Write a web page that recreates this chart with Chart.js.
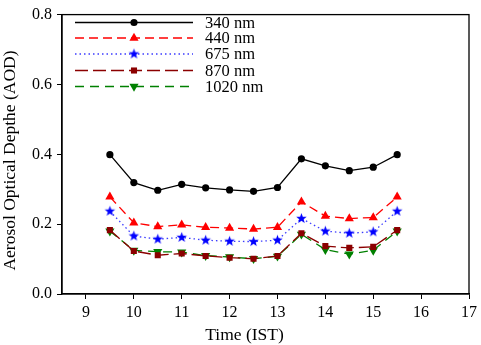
<!DOCTYPE html>
<html><head><meta charset="utf-8">
<script src="https://cdn.jsdelivr.net/npm/chart.js@4.4.1/dist/chart.umd.min.js"></script>
<style>html,body{margin:0;padding:0;background:#fff}#wrap{width:481px;height:345px}</style>
</head><body><div id="wrap"><canvas id="c" width="481" height="345"></canvas></div>
<script>
const times = [9.5,10,10.5,11,11.5,12,12.5,13,13.5,14,14.5,15,15.5];
const aod340  = [0.399,0.319,0.297,0.314,0.304,0.298,0.294,0.305,0.387,0.367,0.353,0.363,0.399];
const aod440  = [0.278,0.204,0.193,0.198,0.191,0.189,0.186,0.191,0.264,0.223,0.216,0.219,0.278];
const aod675  = [0.237,0.166,0.157,0.162,0.154,0.151,0.150,0.154,0.216,0.180,0.174,0.178,0.237];
const aod870  = [0.183,0.123,0.111,0.116,0.109,0.104,0.101,0.109,0.174,0.137,0.132,0.135,0.183];
const aod1020 = [0.180,0.125,0.121,0.120,0.110,0.106,0.101,0.108,0.171,0.127,0.114,0.125,0.180];
const seriesLabels = ['340 nm','440 nm','675 nm','870 nm','1020 nm'];
const xTicks = [9,10,11,12,13,14,15,16,17];
const yTicks = [0.0,0.2,0.4,0.6,0.8];
const xTitle = 'Time (IST)';
const yTitle = 'Aerosol Optical Depthe (AOD)';

function makeStar(color, r){
  const c = document.createElement('canvas');
  const s = Math.ceil(r*2+2);
  c.width = s; c.height = s;
  const g = c.getContext('2d');
  g.fillStyle = color;
  g.beginPath();
  for(let i=0;i<10;i++){
    const rr = i%2===0 ? r : r*0.42;
    const a = -Math.PI/2 + i*Math.PI/5;
    const px = s/2 + rr*Math.cos(a), py = s/2 + rr*Math.sin(a);
    if(i===0) g.moveTo(px,py); else g.lineTo(px,py);
  }
  g.closePath(); g.fill();
  return c;
}
const starImg = makeStar('#0000ff', 5.5);

function pts(arr){ return arr.map((v,i)=>({x:times[i], y:v})); }
const F = "'Liberation Serif','Times New Roman',serif";

const datasets = [
  {label:seriesLabels[0], data:pts(aod340), borderColor:'#000', backgroundColor:'#000', borderWidth:1.3, borderDash:[], pointStyle:'circle', pointRadius:3.6, pointRotation:0},
  {label:seriesLabels[1], data:pts(aod440), borderColor:'#ff0000', backgroundColor:'#ff0000', borderWidth:1.3, borderDash:[9,5], pointStyle:'triangle', pointRadius:5.3, pointRotation:0},
  {label:seriesLabels[2], data:pts(aod675), borderColor:'#3b3bff', backgroundColor:'#0000ff', borderWidth:1.3, borderDash:[1.5,3], pointStyle:starImg, pointRadius:5, pointRotation:0},
  {label:seriesLabels[3], data:pts(aod870), borderColor:'#8b0000', backgroundColor:'#8b0000', borderWidth:1.3, borderDash:[13,5], pointStyle:'rect', pointRadius:4.3, pointRotation:0},
  {label:seriesLabels[4], data:pts(aod1020), borderColor:'#008000', backgroundColor:'#008000', borderWidth:1.3, borderDash:[9,6], pointStyle:'triangle', pointRadius:5.3, pointRotation:180},
];
datasets.forEach(d=>{ d.pointBorderWidth=0; d.pointBorderColor=d.backgroundColor; d.fill=false; d.tension=0; });

const framePlugin = {
  id:'frame',
  afterDraw(chart){
    const {ctx, chartArea:a} = chart;
    ctx.save();
    ctx.strokeStyle='#000'; ctx.lineWidth=1.3;
    ctx.strokeRect(a.left, a.top, a.right-a.left, a.bottom-a.top);
    // axis titles
    ctx.fillStyle='#000';
    ctx.font = "17.5px "+F;
    ctx.textAlign='center'; ctx.textBaseline='middle';
    ctx.fillText(xTitle, 244.5, 335);
    ctx.save();
    ctx.translate(10, 160.5); ctx.rotate(-Math.PI/2);
    ctx.fillText(yTitle, 0, 0);
    ctx.restore();
    // legend
    const rows = [22.5,38,54,70.5,86.5];
    ctx.font = "16.5px "+F;
    ctx.textBaseline='middle'; ctx.textAlign='left';
    chart.data.datasets.forEach((d,i)=>{
      const y = rows[i];
      ctx.save();
      ctx.strokeStyle=d.borderColor; ctx.lineWidth=d.borderWidth;
      ctx.setLineDash(d.borderDash);
      ctx.beginPath(); ctx.moveTo(75,y); ctx.lineTo(193,y); ctx.stroke();
      ctx.restore();
      ctx.save();
      ctx.fillStyle=d.backgroundColor; ctx.strokeStyle=d.backgroundColor; ctx.lineWidth=0.01;
      Chart.helpers.drawPoint(ctx, {pointStyle:d.pointStyle, radius:d.pointRadius, rotation:d.pointRotation, borderWidth:0}, 134, y);
      ctx.restore();
      ctx.fillStyle='#000';
      ctx.fillText(d.label, 205, y+1);
    });
    ctx.restore();
  }
};

new Chart(document.getElementById('c'), {
  type:'line',
  data:{datasets},
  options:{
    responsive:false, animation:false, devicePixelRatio:1,
    layout:{padding:{top:7,right:8,left:0,bottom:0}},
    plugins:{legend:{display:false}, tooltip:{enabled:false}},
    scales:{
      x:{type:'linear', min:8.5, max:17,
        afterBuildTicks(s){ s.ticks = xTicks.map(v=>({value:v})); },
        afterFit(s){ s.height = 51; },
        grid:{display:true, drawOnChartArea:false, drawTicks:true, tickLength:5, color:'#000', lineWidth:1},
        border:{display:true, color:'#000', width:1.3},
        ticks:{color:'#000', font:{family:F, size:16}, padding:4, maxRotation:0, callback:v=>String(v)},
        title:{display:false}
      },
      y:{type:'linear', min:0, max:0.8,
        afterBuildTicks(s){ s.ticks = yTicks.map(v=>({value:v})); },
        afterFit(s){ s.width = 62; },
        grid:{display:true, drawOnChartArea:false, drawTicks:true, tickLength:5, color:'#000', lineWidth:1},
        border:{display:true, color:'#000', width:1.3},
        ticks:{color:'#000', font:{family:F, size:16}, padding:5, callback:v=>Number(v).toFixed(1)},
        title:{display:false}
      }
    }
  },
  plugins:[framePlugin]
});
</script></body></html>
